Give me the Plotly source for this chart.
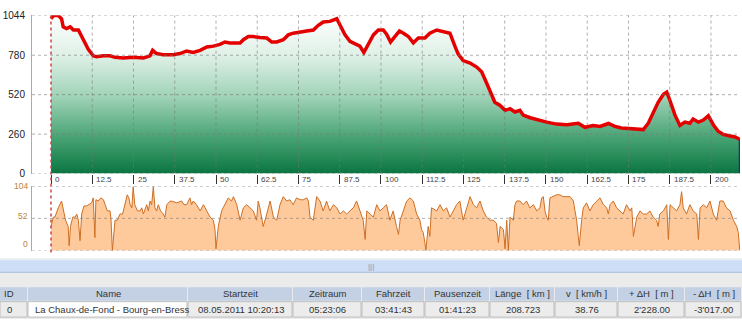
import plotly.graph_objects as go

W, H = 742, 325

# ---------------- data ----------------
elev_km = [0, 0.7, 2.2, 3.2, 3.7, 4.7, 5.8, 6.8, 8.3, 9.3, 10.3, 11.3, 12.8, 13.8, 15.9, 17.9,
           19.4, 21.9, 24.9, 28.0, 30.0, 30.8, 32.0, 34.0, 37.1, 39.1, 41.1, 43.1, 45.2, 47.2,
           49.2, 51.2, 52.7, 54.2, 57.3, 58.3, 59.8, 61.3, 63.3, 65.4, 66.9, 68.4, 70.4, 71.9,
           73.4, 75.5, 77.5, 79.5, 81.0, 82.5, 84.5, 86.6, 87.6, 89.1, 90.6, 92.1, 93.6, 94.8,
           96.2, 97.7, 99.2, 100.7, 101.7, 102.9, 104.2, 105.6, 106.8, 108.3, 109.8, 111.3,
           113.3, 114.8, 116.9, 118.9, 120.9, 122.4, 123.4, 124.9, 127.0, 129.0, 130.5, 132.0,
           133.0, 134.5, 136.1, 137.6, 139.1, 140.6, 142.1, 143.1, 145.2, 147.7, 150.2, 153.2,
           156.3, 159.8, 161.8, 164.3, 166.4, 168.9, 170.9, 172.9, 175.5, 177.5, 179.5, 181.0,
           182.5, 184.0, 185.6, 186.6, 187.6, 189.1, 190.6, 192.1, 193.6, 194.6, 196.2, 197.7,
           199.2, 200.7, 202.2, 203.7, 205.8, 207.3, 208.72]
elev_m = [1020, 1041, 1041, 1020, 967, 956, 967, 946, 946, 903, 861, 819, 776, 770, 776, 776,
          766, 762, 766, 762, 776, 812, 791, 783, 783, 791, 808, 798, 812, 834,
          840, 851, 867, 861, 861, 882, 903, 903, 897, 893, 867, 867, 882, 914,
          925, 935, 939, 946, 977, 999, 1003, 1020, 977, 914, 872, 855, 840, 798,
          851, 914, 946, 946, 918, 867, 903, 939, 925, 903, 861, 893,
          893, 925, 946, 935, 925, 840, 787, 745, 728, 702, 671, 597,
          540, 470, 449, 417, 427, 406, 417, 385, 368, 353, 339, 326,
          322, 332, 305, 317, 311, 330, 311, 300, 294, 290, 290, 332,
          406, 470, 523, 537, 480, 385, 317, 339, 332, 360, 339, 353,
          381, 322, 279, 258, 248, 241, 226]

speed_km = [0, 0.7, 1.2, 2.2, 3.2, 3.7, 4.4, 5.2, 5.5, 5.9, 6.6, 7.3, 7.8, 8.3, 8.8, 9.3, 10.0,
            10.8, 11.6, 12.3, 12.8, 13.3, 13.6, 14.3, 15.1, 15.9, 16.4, 17.1, 17.9, 18.2, 18.6,
            18.9, 19.4, 20.1, 20.9, 21.7, 22.4, 23.1, 23.6, 24.0, 24.5, 24.9, 25.4, 26.2, 27.0,
            27.5, 28.0, 29.0, 29.5, 30.0, 30.5, 31.0, 31.5, 32.0, 32.5, 33.2, 34.0, 34.5, 35.1,
            36.1, 37.1, 38.1, 39.1, 39.6, 40.3, 41.1, 42.1, 42.6, 43.1, 44.1, 45.2, 46.2, 47.2,
            48.2, 49.2, 49.7, 50.0, 50.7, 51.7, 52.7, 53.7, 54.7, 55.3, 56.3, 57.3, 58.3, 59.3,
            60.3, 61.3, 62.3, 62.8, 63.3, 64.3, 65.4, 66.4, 67.4, 68.4, 69.4, 70.4, 71.4, 72.4,
            73.4, 74.4, 75.5, 76.5, 77.5, 78.0, 78.5, 79.5, 80.5, 81.5, 82.5, 83.5, 84.5, 85.6,
            86.6, 87.6, 88.6, 89.6, 90.6, 91.6, 92.6, 93.6, 94.6, 95.2, 95.7, 96.7, 97.7, 98.7,
            99.7, 100.7, 101.7, 102.7, 103.7, 104.7, 105.3, 105.8, 106.8, 107.8, 108.8, 109.8,
            110.8, 111.8, 112.3, 112.8, 113.3, 113.6, 114.3, 114.8, 115.3, 116.9, 117.9, 118.9,
            119.9, 120.9, 121.9, 122.9, 123.9, 124.4, 124.9, 126.0, 127.0, 128.0, 129.0, 130.0,
            131.0, 132.0, 133.0, 134.0, 135.0, 135.6, 136.1, 137.1, 137.6, 138.1, 138.6, 139.1,
            140.1, 140.6, 141.1, 142.1, 143.1, 144.1, 145.1, 146.2, 147.2, 148.2, 148.7, 149.2,
            149.7, 150.2, 150.7, 151.2, 152.2, 153.2, 154.2, 155.2, 157.3, 158.3, 158.8, 159.3,
            159.8, 160.1, 160.8, 161.3, 162.3, 163.3, 164.3, 165.4, 166.4, 167.4, 168.4, 168.9,
            169.4, 170.4, 171.4, 172.4, 173.4, 174.4, 175.5, 176.0, 176.5, 177.5, 178.5, 179.5,
            180.5, 181.5, 182.5, 183.5, 184.0, 184.5, 185.6, 186.6, 187.1, 187.6, 188.6, 189.6,
            190.6, 191.1, 191.6, 192.6, 193.6, 194.6, 195.7, 196.2, 196.7, 197.7, 198.7, 199.7,
            200.7, 201.7, 202.7, 203.7, 204.7, 205.8, 206.8, 207.8, 208.3, 208.72]
speed_kmh = [39, 54, 54, 69, 80, 69, 49, 39, 8, 39, 54, 54, 59, 49, 16, 59, 72,
             72, 74, 77, 85, 21, 82, 80, 85, 82, 74, 64, 64, 49, 0,
             23, 49, 49, 59, 59, 74, 90, 85, 74, 69, 103, 74, 64, 64,
             69, 59, 74, 64, 80, 74, 103, 69, 64, 74, 64, 59, 54, 74,
             80, 79, 77, 79, 80, 74, 74, 85, 74, 80, 74, 64, 74, 64,
             54, 49, 34, 3, 39, 64, 74, 85, 80, 87, 74, 49, 69, 74,
             69, 64, 49, 80, 69, 39, 59, 80, 54, 49, 74, 87, 80, 82,
             74, 85, 82, 82, 85, 80, 54, 49, 87, 80, 64, 80, 64, 74,
             69, 59, 64, 59, 64, 69, 80, 64, 49, 18, 64, 59, 54, 74,
             64, 69, 74, 49, 64, 39, 26, 49, 64, 80, 85, 80,
             59, 49, 34, 29, 13, 0, 39, 23, 69, 64, 74, 64,
             69, 54, 64, 74, 80, 64, 49, 69, 87, 74, 69, 80,
             64, 54, 49, 49, 44, 13, 39, 34, 3, 49, 0, 54,
             49, 74, 80, 80, 74, 80, 69, 74, 64, 69, 85, 87,
             64, 54, 49, 85, 87, 90, 90, 87, 87, 80, 64, 49,
             23, 8, 49, 69, 77, 64, 74, 80, 85, 74, 69, 59,
             74, 80, 69, 64, 59, 74, 64, 69, 23, 54, 64, 59,
             59, 64, 54, 49, 39, 59, 64, 74, 18, 74, 69, 64,
             74, 95, 69, 59, 74, 64, 59, 18, 69, 74, 69, 80,
             59, 49, 80, 80, 69, 64, 49, 39, 29, 0]

elev_ticks = [0, 260, 520, 780, 1044]
speed_ticks = [0, 52, 104]
dist_ticks = [0, 12.5, 25, 37.5, 50, 62.5, 75, 87.5, 100, 112.5, 125, 137.5, 150, 162.5, 175, 187.5, 200]
dist_labels = ["0", "12.5", "25", "37.5", "50", "62.5", "75", "87.5", "100", "112.5", "125",
               "137.5", "150", "162.5", "175", "187.5", "200"]

table_headers = ["ID", "Name", "Startzeit", "Zeitraum", "Fahrzeit", "Pausenzeit",
                 "Länge  [ km ]", "v  [ km/h ]", "+ ΔH  [ m ]", "- ΔH  [ m ]"]
table_row = ["0", "La Chaux-de-Fond - Bourg-en-Bress", "08.05.2011 10:20:13", "05:23:06",
             "03:41:43", "01:41:23", "208.723", "38.76", "2'228.00", "-3'017.00"]

# ---------------- layout helpers (pixels -> paper) ----------------
def px(x):
    return x / W

def py(y):
    return 1 - y / H

FONT = "Liberation Sans, Arial, sans-serif"
X_RANGE = [-5.76, 208.8]
PLOT_L, PLOT_R = 32, 740
col_edges = [0, 28, 188, 293, 362, 425, 490, 555, 618, 685, 742]
col_align = ["left", "center", "center", "center", "center", "center", "center", "center", "center", "center"]
row_align = ["left", "left", "center", "center", "center", "center", "center", "center", "center", "center"]

fig = go.Figure()

fig.add_trace(go.Scatter(
    x=elev_km, y=elev_m, mode="lines", xaxis="x", yaxis="y",
    line=dict(color="#e50000", width=3.5),
    fill="tozeroy",
    fillgradient=dict(type="vertical", start=0, stop=1044,
                      colorscale=[[0, "rgb(0,110,56)"], [0.25, "rgb(70,162,114)"],
                                  [0.5, "rgb(158,210,182)"], [0.75, "rgb(222,240,230)"],
                                  [1, "rgb(255,255,255)"]]),
    hoverinfo="skip", showlegend=False))

fig.add_trace(go.Scatter(
    x=speed_km, y=speed_kmh, mode="lines", xaxis="x2", yaxis="y2",
    line=dict(color="rgb(205,110,35)", width=1),
    fill="tozeroy", fillcolor="rgb(255,202,155)",
    hoverinfo="skip", showlegend=False))

shapes = []
annotations = []
GRID = dict(color="rgba(120,120,120,0.6)", width=1, dash="dot")

# top chart grid (drawn above the fill)
for t in dist_ticks[1:]:
    shapes.append(dict(type="line", xref="x", yref="y", x0=t, x1=t, y0=0, y1=elev_ticks[-1],
                       line=GRID, layer="above"))
for t in elev_ticks:
    shapes.append(dict(type="line", xref="x", yref="y", x0=X_RANGE[0], x1=X_RANGE[1], y0=t, y1=t,
                       line=GRID, layer="above"))
# speed chart grid
for t in speed_ticks:
    shapes.append(dict(type="line", xref="x2", yref="y2", x0=X_RANGE[0], x1=X_RANGE[1], y0=t, y1=t,
                       line=GRID, layer="above"))
# end-of-track marker on elevation profile
shapes.append(dict(type="line", xref="x", yref="y", x0=elev_km[-1], x1=elev_km[-1], y0=0, y1=elev_m[-1],
                   line=dict(color="#1c3470", width=2), layer="above"))
# start marker (red dotted) across both charts
shapes.append(dict(type="line", xref="x", yref="paper", x0=elev_km[0], x1=elev_km[0], y0=py(256), y1=py(9.5),
                   line=dict(color="rgb(205,70,70)", width=1.5, dash="dot"), layer="above"))

# x tick labels to the right of the tick marks
for t, lab in zip(dist_ticks, dist_labels):
    annotations.append(dict(x=t, xref="x", y=py(180), yref="paper", text=lab, showarrow=False,
                            xanchor="left", yanchor="middle", xshift=2,
                            font=dict(family=FONT, size=8, color="#444")))
# speed axis labels
speed_shift = [7, 2, 0]
for t, s in zip(speed_ticks, speed_shift):
    annotations.append(dict(x=px(30), xref="paper", y=t, yref="y2", text=str(t), showarrow=False,
                            xanchor="right", yanchor="middle", yshift=s,
                            font=dict(family=FONT, size=8.5, color="rgb(190,130,60)")))

# ---------------- lower panel: scrollbar + table ----------------
shapes.append(dict(type="rect", xref="paper", yref="paper", x0=0, x1=1, y0=py(325), y1=py(262),
                   fillcolor="#ebebeb", line=dict(width=0), layer="above"))
shapes.append(dict(type="rect", xref="paper", yref="paper", x0=0, x1=1, y0=py(277), y1=py(263),
                   fillcolor="rgb(205,222,246)", line=dict(width=0), layer="above"))
shapes.append(dict(type="line", xref="paper", yref="paper", x0=0, x1=1, y0=py(263.5), y1=py(263.5),
                   line=dict(color="rgb(236,243,252)", width=1), layer="above"))
shapes.append(dict(type="line", xref="paper", yref="paper", x0=0, x1=1, y0=py(276.5), y1=py(276.5),
                   line=dict(color="rgb(170,190,220)", width=1), layer="above"))
annotations.append(dict(x=px(371), xref="paper", y=py(270), yref="paper", text="|||", showarrow=False,
                        xanchor="center", yanchor="middle",
                        font=dict(family=FONT, size=8, color="rgb(130,150,185)")))

HDR_T, HDR_B, ROW_B = 292, 306, 323
for i, (h, v) in enumerate(zip(table_headers, table_row)):
    x0, x1 = col_edges[i], col_edges[i + 1]
    shapes.append(dict(type="rect", xref="paper", yref="paper", x0=px(x0), x1=px(x1 - 1),
                       y0=py(HDR_B), y1=py(HDR_T), fillcolor="rgb(196,209,228)",
                       line=dict(width=0), layer="above"))
    shapes.append(dict(type="rect", xref="paper", yref="paper", x0=px(x0), x1=px(x1 - 1),
                       y0=py(ROW_B), y1=py(HDR_B + 1),
                       fillcolor="#ffffff" if i == 1 else "rgb(236,236,236)",
                       line=dict(color="rgb(190,190,190)", width=1), layer="above"))
    ha = col_align[i]
    annotations.append(dict(x=px(x0 + 2) if ha == "left" else px((x0 + x1) / 2), xref="paper",
                            y=py((HDR_T + HDR_B) / 2), yref="paper", text=h, showarrow=False,
                            xanchor=ha, yanchor="middle",
                            font=dict(family=FONT, size=9.5, color="#333")))
    ra = row_align[i]
    annotations.append(dict(x=px(x0 + 5) if ra == "left" else px((x0 + x1) / 2), xref="paper",
                            y=py((HDR_B + ROW_B) / 2 + 0.5), yref="paper", text=v, showarrow=False,
                            xanchor=ra, yanchor="middle",
                            font=dict(family=FONT, size=9.5, color="#333")))

axis_common = dict(range=X_RANGE, domain=[px(PLOT_L), px(PLOT_R)], showgrid=False, zeroline=False)

fig.update_layout(
    width=W, height=H, margin=dict(l=0, r=0, t=0, b=0),
    paper_bgcolor="white", plot_bgcolor="white",
    font=dict(family=FONT),
    xaxis=dict(**axis_common, anchor="y", tickvals=dist_ticks, showticklabels=False,
               ticks="outside", ticklen=9, tickcolor="#333", tickwidth=1),
    yaxis=dict(range=[0, 1044], domain=[py(174), py(9.5)], anchor="x", tickvals=elev_ticks,
               showgrid=False, zeroline=False, showline=True, linecolor="#aaa", linewidth=1,
               ticks="outside", ticklen=4, tickcolor="rgba(0,0,0,0)",
               tickfont=dict(family=FONT, size=10, color="#222")),
    xaxis2=dict(**axis_common, anchor="y2", showticklabels=False, ticks=""),
    yaxis2=dict(range=[0, 104], domain=[py(254), py(187)], anchor="x2", showticklabels=False,
                showgrid=False, zeroline=False, showline=True, linecolor="#aaa", linewidth=1),
    shapes=shapes, annotations=annotations,
)

fig.write_html("out.html", config={"displayModeBar": False})
